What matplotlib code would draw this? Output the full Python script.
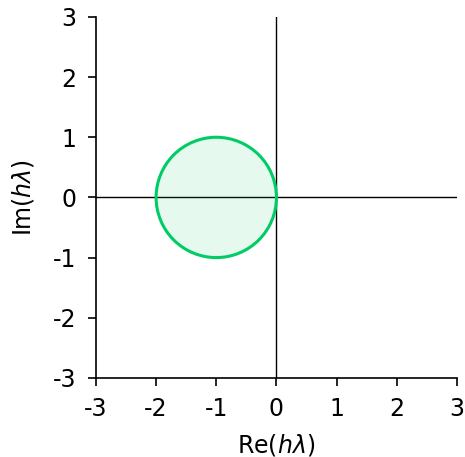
import numpy as np
import matplotlib
matplotlib.use("Agg")
import matplotlib.pyplot as plt
import matplotlib.patches as mpatches

plt.rcParams["axes.unicode_minus"] = False
plt.rcParams["mathtext.fontset"] = "dejavusans"

# stability region of forward Euler: |1 + h*lambda| <= 1
circle_center = (-1.0, 0.0)
circle_radius = 1.0
ticks = [-3, -2, -1, 0, 1, 2, 3]
green = "#00cc66"

fig = plt.figure(figsize=(4.65, 4.57), dpi=100)
ax = fig.add_axes([0.206, 0.173, 0.777, 0.790])

ax.axhline(0, color="black", linewidth=1.0, zorder=1)
ax.axvline(0, color="black", linewidth=1.0, zorder=1)

fill = mpatches.Circle(circle_center, circle_radius, facecolor=green, alpha=0.1,
                       edgecolor="none", zorder=2)
edge = mpatches.Circle(circle_center, circle_radius, facecolor="none",
                       edgecolor=green, linewidth=2.2, zorder=3)
ax.add_patch(fill)
ax.add_patch(edge)

ax.set_xlim(ticks[0], ticks[-1])
ax.set_ylim(ticks[0], ticks[-1])
ax.set_xticks(ticks)
ax.set_yticks(ticks)
ax.set_aspect("equal")

for side in ("top", "right"):
    ax.spines[side].set_visible(False)
for side in ("left", "bottom"):
    ax.spines[side].set_linewidth(1.2)
ax.tick_params(labelsize=17, length=6, width=1.2, direction="out", pad=8)

ax.set_xlabel(r"Re($h\lambda$)", fontsize=17, labelpad=8)
ax.set_ylabel(r"Im($h\lambda$)", fontsize=17, labelpad=12)

fig.savefig("out.png", dpi=100)
